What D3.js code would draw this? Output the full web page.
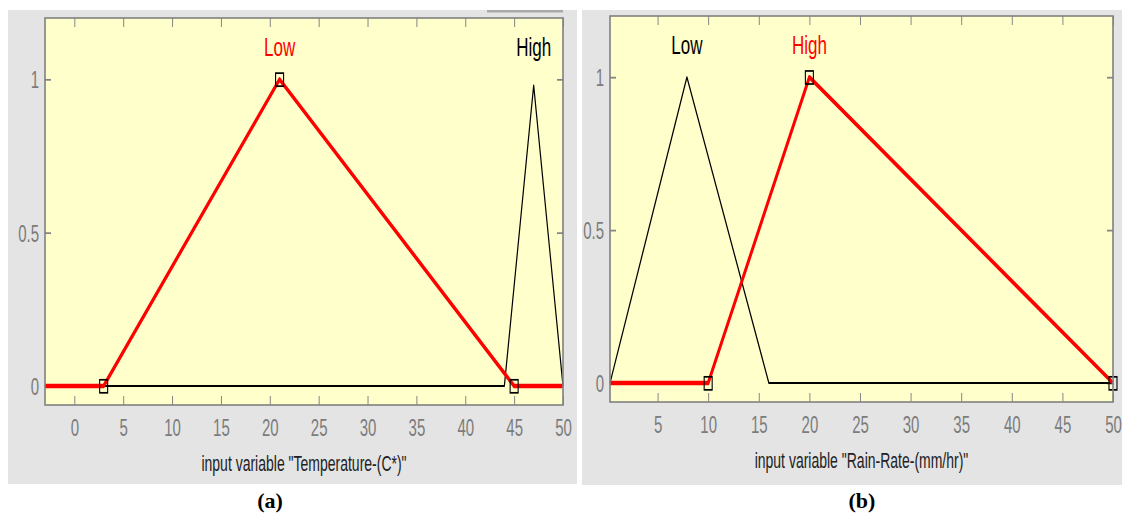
<!DOCTYPE html>
<html>
<head>
<meta charset="utf-8">
<script src="https://cdn.jsdelivr.net/npm/d3@7"></script>
<style>
  html, body { margin: 0; padding: 0; background: #fff; }
  svg { display: block; font-family: "Liberation Sans", Arial, sans-serif; }
</style>
</head>
<body>
<svg id="chart" width="1122" height="513"></svg>
<script>
// values
const yTicks = [0, 0.5, 1];
const yTickLabels = ['0', '0.5', '1'];

const tempDomain = [-3, 50];
const tempTicks = [0, 5, 10, 15, 20, 25, 30, 35, 40, 45, 50];
const tempLow = [[-3, 0], [3, 0], [21, 1], [45, 0], [50, 0]];
const tempHigh = [[-3, 0], [44, 0], [47, 0.98], [50, 0]];
const tempLowKnots = [[3, 0], [21, 1], [45, 0]];

const rainDomain = [0.3, 50];
const rainTicks = [5, 10, 15, 20, 25, 30, 35, 40, 45, 50];
const rainLow = [[0.3, 0], [7.9, 1], [16, 0], [50, 0]];
const rainHigh = [[0.3, 0], [10, 0], [20, 1], [50, 0]];
const rainHighKnots = [[10, 0], [20, 1], [50, 0]];

const yDomain = [-0.062, 1.2];
const K = 1.55; // the screenshot is stretched vertically, text and strokes too

const svg = d3.select('#chart');

function stretchedText(g, x, y, str) {
  return g.append('text')
    .attr('transform', 'translate(' + x + ',' + y + ') scale(1,' + K + ')')
    .text(str);
}

function drawPanel(p) {
  const g = svg.append('g');
  // grey figure background
  g.append('rect')
    .attr('x', p.bg[0]).attr('y', p.bg[1])
    .attr('width', p.bg[2]).attr('height', p.bg[3])
    .attr('fill', '#e4e4e4');
  // yellow axes area
  g.append('rect')
    .attr('x', p.left).attr('y', p.top)
    .attr('width', p.right - p.left).attr('height', p.bottom - p.top)
    .attr('fill', '#ffffcc');

  const x = d3.scaleLinear().domain(p.xDomain).range([p.left, p.right]);
  const y = d3.scaleLinear().domain(yDomain).range([p.bottom, p.top]);
  const ys = d3.scaleLinear().domain(yDomain).range([p.bottom / K, p.top / K]);

  // ticks, all pointing inward
  const bottomAxis = g.append('g')
    .attr('transform', 'translate(0,' + p.bottom + ')')
    .call(d3.axisBottom(x).tickValues(p.xTicks).tickSize(-9).tickFormat(d3.format('d')));
  bottomAxis.selectAll('text')
    .attr('y', 0).attr('dy', 0)
    .attr('transform', 'translate(0,31) scale(1,' + K + ')');
  g.append('g')
    .attr('transform', 'translate(0,' + p.top + ')')
    .call(d3.axisTop(x).tickValues(p.xTicks).tickSize(-9).tickFormat(''));
  const leftAxis = g.append('g')
    .attr('transform', 'translate(' + p.left + ',0)')
    .call(d3.axisLeft(y).tickValues(yTicks).tickSize(-6).tickPadding(6)
      .tickFormat((d, i) => yTickLabels[i]));
  leftAxis.selectAll('text')
    .attr('dy', '0.36em')
    .attr('transform', 'scale(1,' + K + ')')
    .attr('y', 0);
  g.append('g')
    .attr('transform', 'translate(' + p.right + ',0)')
    .call(d3.axisRight(y).tickValues(yTicks).tickSize(-6).tickFormat(''));

  g.selectAll('.domain').remove();
  g.selectAll('.tick line').attr('stroke', '#858585');
  g.selectAll('.tick line')
    .filter(function () { return d3.select(this).attr('x2') != null && +d3.select(this).attr('x2') !== 0; })
    .attr('stroke-width', 1.8);
  g.selectAll('.tick text')
    .attr('fill', '#7c7c7c')
    .attr('font-size', 15)
    .attr('font-family', '"Liberation Sans", Arial, sans-serif');

  // membership functions, drawn in a vertically stretched group
  const lines = g.append('g').attr('transform', 'scale(1,' + K + ')');
  const line = d3.line().x(d => x(d[0])).y(d => ys(d[1]));
  p.mfs.forEach(mf => {
    lines.append('path')
      .attr('d', line(mf.data))
      .attr('fill', 'none')
      .attr('stroke', mf.active ? '#ff0000' : '#000')
      .attr('stroke-width', mf.active ? 2.8 : 1.2)
      .attr('stroke-linejoin', 'round');
  });
  lines.selectAll('rect.knot')
    .data(p.knots)
    .enter()
    .append('rect')
    .attr('class', 'knot')
    .attr('x', d => x(d[0]) - 4)
    .attr('y', d => ys(d[1]) - 4)
    .attr('width', 8)
    .attr('height', 8.4)
    .attr('fill', 'none')
    .attr('stroke', '#000')
    .attr('stroke-width', 1.1);

  // MF names over the peaks
  p.mfs.forEach(mf => {
    const peak = mf.data.reduce((a, b) => (b[1] > a[1] ? b : a));
    stretchedText(g, x(peak[0]), y(1) - 23, mf.name)
      .attr('text-anchor', 'middle')
      .attr('font-size', 17)
      .attr('fill', mf.active ? '#ff0000' : '#000');
  });

  // axes frame
  g.append('rect')
    .attr('x', p.left).attr('y', p.top)
    .attr('width', p.right - p.left).attr('height', p.bottom - p.top)
    .attr('fill', 'none')
    .attr('stroke', '#808080')
    .attr('stroke-width', 1.6);

  stretchedText(g, (p.left + p.right) / 2, p.bottom + 66, p.title)
    .attr('text-anchor', 'middle')
    .attr('font-size', 14)
    .attr('fill', '#222');

  g.append('text')
    .attr('x', p.captionX).attr('y', 508)
    .attr('text-anchor', 'middle')
    .attr('font-family', '"Liberation Serif", "Times New Roman", serif')
    .attr('font-weight', 'bold')
    .attr('font-size', 22)
    .attr('fill', '#000')
    .text(p.caption);
}

drawPanel({
  bg: [8, 10, 569, 474],
  left: 45, right: 563, top: 18, bottom: 405,
  xDomain: tempDomain, xTicks: tempTicks,
  mfs: [
    { name: 'High', data: tempHigh, active: false },
    { name: 'Low', data: tempLow, active: true }
  ],
  knots: tempLowKnots,
  title: 'input variable "Temperature-(C*)"',
  caption: '(a)', captionX: 270
});

// small dark band on top of the left screenshot
svg.append('rect')
  .attr('x', 487).attr('y', 10).attr('width', 76).attr('height', 2.5)
  .attr('fill', '#a9a9a9');

drawPanel({
  bg: [582, 10, 540, 475],
  left: 610, right: 1113, top: 16, bottom: 402,
  xDomain: rainDomain, xTicks: rainTicks,
  mfs: [
    { name: 'Low', data: rainLow, active: false },
    { name: 'High', data: rainHigh, active: true }
  ],
  knots: rainHighKnots,
  title: 'input variable "Rain-Rate-(mm/hr)"',
  caption: '(b)', captionX: 862
});
</script>
</body>
</html>
